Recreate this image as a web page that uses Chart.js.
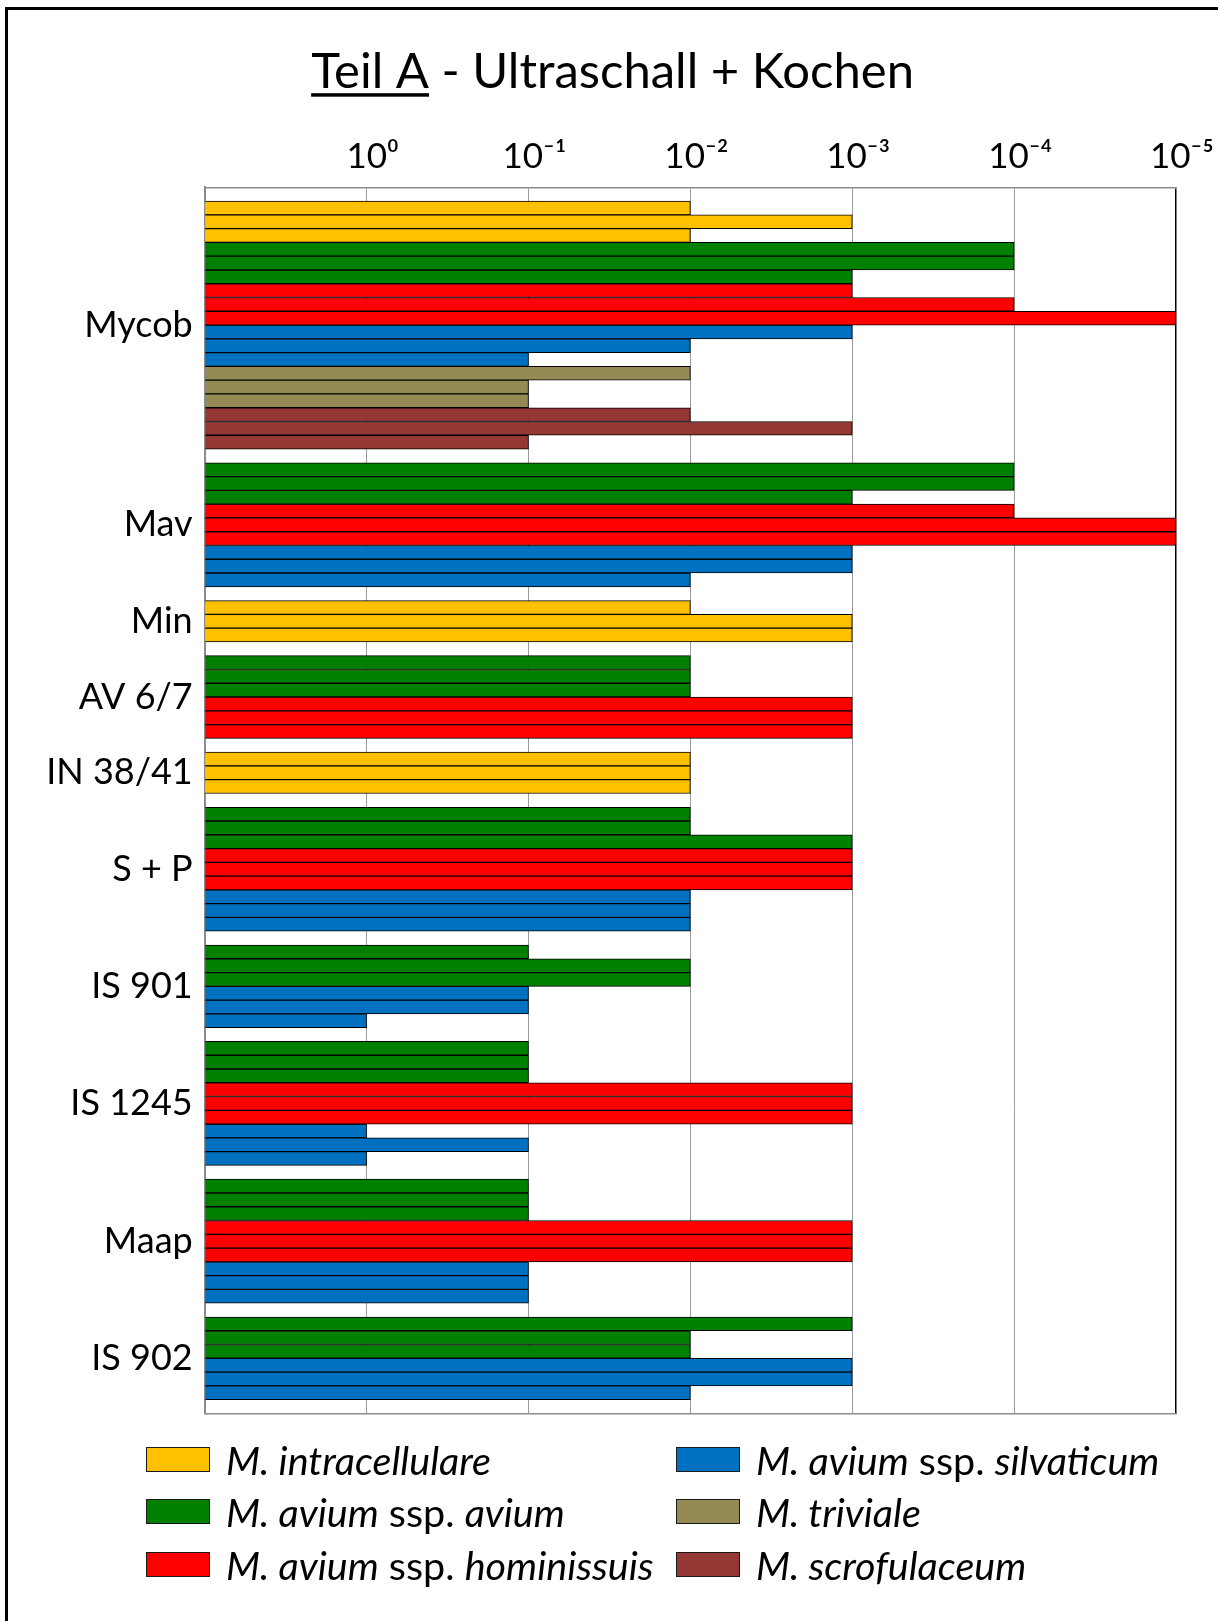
<!DOCTYPE html>
<html><head><meta charset="utf-8">
<script src="https://cdn.jsdelivr.net/npm/chart.js@4/dist/chart.umd.min.js"></script>
<style>
html,body{margin:0;padding:0;background:#fff;}
#wrap{position:relative;width:1218px;height:1621px;overflow:hidden;background:#fff;}
#frame{position:absolute;left:5px;top:7px;right:-10px;bottom:-10px;border-left:3px solid #000;border-top:3px solid #000;}
canvas{position:absolute;left:0;top:0;}
.li{position:absolute;height:34px;display:flex;align-items:center;font-family:Lato,sans-serif;font-size:39.5px;color:#000;white-space:nowrap;}
.li .bx{width:62px;height:23px;border:1.5px solid #1a1a1a;margin-right:16px;flex:none;}
.li i{font-style:italic;}
</style></head>
<body><div id="wrap"><div id="frame"></div><canvas id="c" width="1218" height="1621"></canvas><div id="legend"></div></div>
<script>
const titleText = 'Teil A - Ultraschall + Kochen';
const categories = ['Mycob','Mav','Min','AV 6/7','IN 38/41','S + P','IS 901','IS 1245','Maap','IS 902'];
const speciesNames = ['M. intracellulare','M. avium ssp. avium','M. avium ssp. hominissuis','M. avium ssp. silvaticum','M. triviale','M. scrofulaceum'];
const speciesColors = ['#FFC000','#008000','#FF0000','#0070C0','#948A54','#953735'];
const tickExponents = [0,-1,-2,-3,-4,-5];
// log10 of the last positive dilution, three replicate bars per category (null = not tested)
const intracellulare = [[-2,-3,-2], null, [-2,-3,-3], null, [-2,-2,-2], null, null, null, null, null];
const aviumAvium     = [[-4,-4,-3], [-4,-4,-3], null, [-2,-2,-2], null, [-2,-2,-3], [-1,-2,-2], [-1,-1,-1], [-1,-1,-1], [-3,-2,-2]];
const hominissuis    = [[-3,-4,-5], [-4,-5,-5], null, [-3,-3,-3], null, [-3,-3,-3], null, [-3,-3,-3], [-3,-3,-3], null];
const silvaticum     = [[-3,-2,-1], [-3,-3,-2], null, null, null, [-2,-2,-2], [-1,-1,0], [0,-1,0], [-1,-1,-1], [-3,-3,-2]];
const triviale       = [[-2,-1,-1], null, null, null, null, null, null, null, null, null];
const scrofulaceum   = [[-2,-3,-1], null, null, null, null, null, null, null, null, null];
const seriesValues = [intracellulare, aviumAvium, hominissuis, silvaticum, triviale, scrofulaceum];

// build row layout: one row per bar, one empty row between categories
let row = 1;
const labelPos = [];
const points = seriesValues.map(() => []);
categories.forEach((cat, ci) => {
  const start = row;
  seriesValues.forEach((s, si) => {
    if (s[ci]) s[ci].forEach(v => { points[si].push({x: v, y: row + 0.5}); row++; });
  });
  labelPos.push((start + row) / 2);
  row++;
});
const totalRows = row;

const supMap = {'0':'\u2070','1':'\u00B9','2':'\u00B2','3':'\u00B3','4':'\u2074','5':'\u2075','-':'\u207B'};
const sup = n => String(n).split('').map(ch => supMap[ch]).join('');

const TITLE_SIZE = 49;
const underlinePlugin = {
  id: 'underline',
  afterDraw(chart) {
    const t = chart.titleBlock; if (!t) return;
    const ctx = chart.ctx;
    ctx.save();
    ctx.font = TITLE_SIZE + 'px Lato';
    ctx.textBaseline = 'middle';
    const full = ctx.measureText(titleText).width;
    const part = ctx.measureText('Teil A').width;
    const base = ctx.measureText('T').actualBoundingBoxDescent;
    const cx = (t.left + t.right) / 2;
    const cy = t.top + t.height / 2;
    ctx.fillStyle = '#000';
    ctx.fillRect(cx - full / 2, cy + base + 5, part, 3.5);
    ctx.restore();
  }
};

const chart = new Chart(document.getElementById('c'), {
  type: 'bar',
  data: {
    datasets: speciesNames.map((n, i) => ({
      label: n, data: points[i], backgroundColor: speciesColors[i],
      borderColor: '#000', borderWidth: 1, base: 1, grouped: false,
      barPercentage: 1, categoryPercentage: 1
    }))
  },
  options: {
    indexAxis: 'y', responsive: false, devicePixelRatio: 1, animation: false,
    layout: {padding: {top: 43, left: 46.5, right: 39.3, bottom: 207.6}},
    plugins: {
      legend: {display: false}, tooltip: {enabled: false},
      title: {display: true, text: titleText, color: '#000',
        font: {family: 'Lato', size: TITLE_SIZE, weight: 'normal'}, padding: {top: 0, bottom: 0}}
    },
    scales: {
      x: {
        type: 'linear', position: 'top', reverse: true, min: -5, max: 1,
        afterBuildTicks: s => { s.ticks = [1].concat(tickExponents).map(v => ({value: v})); },
        ticks: {autoSkip: false, maxRotation: 0, color: '#000', padding: 10, labelOffset: 6,
          font: {family: 'Lato', size: 35},
          callback: v => (v === 1 ? '' : '10' + sup(v))},
        grid: {drawTicks: false, color: c => (c.tick && c.tick.value === -5 ? '#000' : '#9a9a9a'),
          lineWidth: c => (c.tick && c.tick.value === -5 ? 1.5 : 1)},
        border: {color: '#8c8c8c', width: 1.5},
        afterFit: s => { s.height = 85.5; }
      },
      xb: {
        type: 'linear', axis: 'x', position: 'bottom', reverse: true, min: -5, max: 1,
        ticks: {display: false}, grid: {display: false, drawTicks: false},
        border: {display: true, color: '#8c8c8c', width: 1.5},
        afterFit: s => { s.height = 0; }
      },
      y: {
        type: 'linear', reverse: true, min: 0, max: totalRows, offset: false,
        afterBuildTicks: s => { s.ticks = labelPos.map(v => ({value: v})); },
        ticks: {autoSkip: false, color: '#000', padding: 12,
          font: {family: 'Lato', size: 36},
          callback: v => categories[labelPos.indexOf(v)]},
        grid: {display: false, drawTicks: false, offset: false},
        border: {color: '#8c8c8c', width: 2},
        afterFit: s => { s.width = 158.2; }
      }
    }
  },
  plugins: [underlinePlugin]
});

// HTML legend (mixed italic text) built from the chart's datasets
const legend = document.getElementById('legend');
chart.data.datasets.forEach((ds, i) => {
  const col = Math.floor(i / 3), r = i % 3;
  const d = document.createElement('div');
  d.className = 'li';
  d.style.left = [146, 676][col] + 'px';
  d.style.top = (1459 + r * 52.5 - 17) + 'px';
  const parts = ds.label.split(' ssp. ');
  const html = parts.length > 1 ? '<i>' + parts[0] + '</i> ssp. <i>' + parts[1] + '</i>' : '<i>' + parts[0] + '</i>';
  d.innerHTML = '<span class="bx" style="background:' + ds.backgroundColor + '"></span><span>' + html + '</span>';
  legend.appendChild(d);
});
</script>
</body></html>
